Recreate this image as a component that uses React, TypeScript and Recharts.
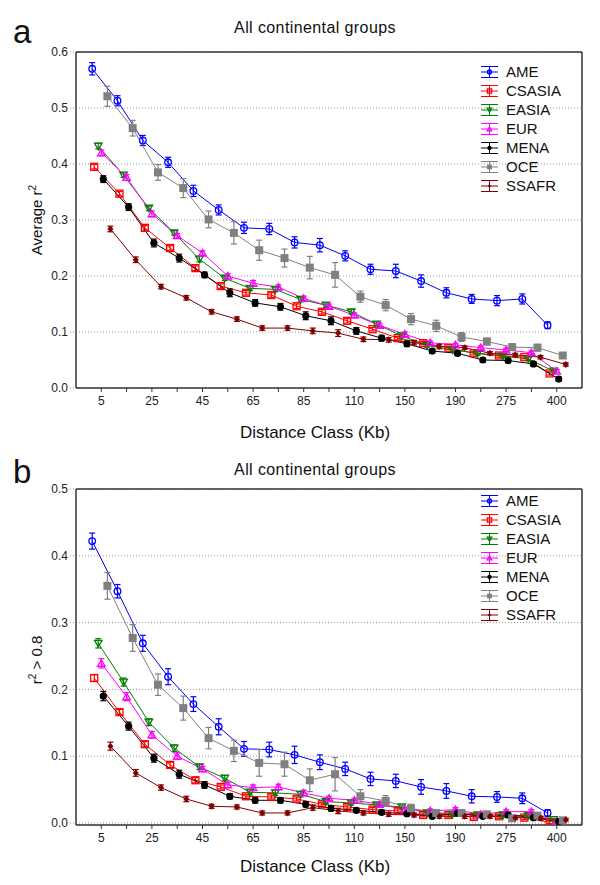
import React from "react";
import { LineChart, Line, XAxis, YAxis, CartesianGrid, ErrorBar, Legend } from "recharts";

const FONT = "'Liberation Sans', Arial, sans-serif";

const distanceClasses = ["5", "15", "25", "35", "45", "55", "65", "75", "85", "95", "110", "130", "150", "170", "190", "225", "275", "325", "400"];
const groups = ["AME", "CSASIA", "EASIA", "EUR", "MENA", "OCE", "SSAFR"];
const colors = ["#0000ff", "#ff0000", "#008000", "#ff00ff", "#000000", "#808080", "#800000"];
const shapes = ["circle", "square", "tdown", "tup", "fcircle", "fsquare", "diamond"];
// horizontal nudge of each group inside a distance class (in class units)
const jitter = [-0.36, -0.28, -0.12, 0, 0.08, 0.24, 0.36];

// panel a: average r2
const ameA = [0.57, 0.513, 0.442, 0.403, 0.352, 0.318, 0.286, 0.284, 0.26, 0.255, 0.236, 0.212, 0.209, 0.191, 0.17, 0.159, 0.156, 0.159, 0.112];
const csasiaA = [0.395, 0.347, 0.286, 0.25, 0.214, 0.182, 0.17, 0.166, 0.146, 0.136, 0.12, 0.105, 0.089, 0.08, 0.072, 0.062, 0.058, 0.055, 0.026];
const easiaA = [0.432, 0.38, 0.321, 0.277, 0.23, 0.196, 0.178, 0.176, 0.158, 0.148, 0.136, 0.114, 0.093, 0.076, 0.068, 0.062, 0.057, 0.052, 0.03];
const eurA = [0.42, 0.376, 0.311, 0.272, 0.241, 0.2, 0.187, 0.18, 0.16, 0.146, 0.13, 0.112, 0.096, 0.081, 0.077, 0.072, 0.068, 0.063, 0.03];
const menaA = [0.373, 0.323, 0.259, 0.232, 0.202, 0.17, 0.152, 0.145, 0.129, 0.12, 0.102, 0.089, 0.079, 0.066, 0.062, 0.05, 0.049, 0.043, 0.016];
const oceA = [0.521, 0.464, 0.385, 0.357, 0.301, 0.277, 0.246, 0.232, 0.215, 0.202, 0.163, 0.148, 0.123, 0.111, 0.091, 0.083, 0.073, 0.072, 0.058];
const ssafrA = [0.284, 0.229, 0.181, 0.161, 0.136, 0.123, 0.107, 0.107, 0.102, 0.098, 0.087, 0.086, 0.081, 0.074, 0.072, 0.062, 0.059, 0.055, 0.042];

const ameErrA = [0.011, 0.009, 0.009, 0.009, 0.01, 0.009, 0.01, 0.01, 0.01, 0.012, 0.009, 0.009, 0.012, 0.011, 0.009, 0.008, 0.009, 0.009, 0.006];
const csasiaErrA = [0.004, 0.004, 0.004, 0.004, 0.004, 0.004, 0.004, 0.004, 0.004, 0.004, 0.004, 0.003, 0.003, 0.003, 0.003, 0.003, 0.003, 0.003, 0.003];
const easiaErrA = [0.005, 0.004, 0.004, 0.004, 0.005, 0.004, 0.004, 0.004, 0.004, 0.004, 0.004, 0.004, 0.003, 0.003, 0.003, 0.003, 0.003, 0.003, 0.003];
const eurErrA = [0.005, 0.005, 0.005, 0.004, 0.004, 0.004, 0.005, 0.004, 0.004, 0.004, 0.004, 0.004, 0.004, 0.003, 0.003, 0.003, 0.003, 0.003, 0.003];
const menaErrA = [0.006, 0.006, 0.007, 0.007, 0.005, 0.007, 0.006, 0.006, 0.007, 0.007, 0.006, 0.005, 0.005, 0.004, 0.004, 0.004, 0.004, 0.004, 0.004];
const oceErrA = [0.018, 0.014, 0.014, 0.017, 0.015, 0.02, 0.018, 0.016, 0.02, 0.022, 0.01, 0.01, 0.01, 0.01, 0.008, 0.006, 0.006, 0.006, 0.005];
const ssafrErrA = [0.005, 0.005, 0.004, 0.004, 0.004, 0.004, 0.004, 0.004, 0.005, 0.006, 0.004, 0.004, 0.004, 0.004, 0.003, 0.003, 0.003, 0.003, 0.003];

// panel b: share of r2 > 0.8
const ameB = [0.422, 0.347, 0.269, 0.219, 0.178, 0.144, 0.111, 0.11, 0.102, 0.091, 0.081, 0.066, 0.063, 0.054, 0.048, 0.04, 0.039, 0.037, 0.015];
const csasiaB = [0.217, 0.166, 0.118, 0.087, 0.064, 0.054, 0.04, 0.039, 0.036, 0.028, 0.024, 0.02, 0.018, 0.012, 0.012, 0.009, 0.01, 0.008, 0.001];
const easiaB = [0.269, 0.211, 0.151, 0.112, 0.084, 0.067, 0.046, 0.045, 0.043, 0.032, 0.03, 0.027, 0.024, 0.015, 0.013, 0.012, 0.012, 0.011, 0.005];
const eurB = [0.239, 0.189, 0.132, 0.1, 0.081, 0.057, 0.053, 0.054, 0.045, 0.037, 0.034, 0.028, 0.02, 0.018, 0.02, 0.013, 0.017, 0.017, 0.002];
const menaB = [0.19, 0.145, 0.097, 0.073, 0.057, 0.04, 0.034, 0.034, 0.028, 0.022, 0.019, 0.016, 0.014, 0.01, 0.015, 0.01, 0.012, 0.008, 0.002];
const oceB = [0.355, 0.277, 0.207, 0.172, 0.127, 0.108, 0.09, 0.088, 0.064, 0.073, 0.04, 0.033, 0.022, 0.015, 0.015, 0.013, 0.007, 0.011, 0.004];
const ssafrB = [0.115, 0.075, 0.053, 0.036, 0.025, 0.024, 0.015, 0.015, 0.023, 0.018, 0.015, 0.013, 0.012, 0.01, 0.01, 0.01, 0.008, 0.007, 0.005];

const ameErrB = [0.012, 0.01, 0.012, 0.012, 0.011, 0.012, 0.011, 0.011, 0.013, 0.011, 0.01, 0.01, 0.01, 0.011, 0.011, 0.01, 0.008, 0.008, 0.005];
const csasiaErrB = [0.005, 0.004, 0.004, 0.004, 0.004, 0.003, 0.003, 0.003, 0.003, 0.003, 0.003, 0.003, 0.003, 0.003, 0.003, 0.003, 0.003, 0.003, 0.002];
const easiaErrB = [0.007, 0.006, 0.005, 0.005, 0.004, 0.004, 0.004, 0.004, 0.004, 0.003, 0.003, 0.003, 0.003, 0.003, 0.003, 0.003, 0.003, 0.003, 0.002];
const eurErrB = [0.007, 0.006, 0.005, 0.005, 0.004, 0.004, 0.004, 0.004, 0.004, 0.003, 0.003, 0.003, 0.003, 0.003, 0.003, 0.003, 0.003, 0.003, 0.002];
const menaErrB = [0.007, 0.006, 0.006, 0.006, 0.005, 0.004, 0.004, 0.004, 0.004, 0.004, 0.003, 0.003, 0.003, 0.003, 0.003, 0.003, 0.003, 0.003, 0.002];
const oceErrB = [0.02, 0.02, 0.016, 0.018, 0.016, 0.016, 0.02, 0.018, 0.017, 0.025, 0.01, 0.008, 0.006, 0.005, 0.005, 0.004, 0.004, 0.004, 0.003];
const ssafrErrB = [0.006, 0.005, 0.004, 0.004, 0.003, 0.003, 0.003, 0.003, 0.004, 0.004, 0.003, 0.003, 0.003, 0.003, 0.003, 0.003, 0.003, 0.003, 0.002];

const valuesA = [ameA, csasiaA, easiaA, eurA, menaA, oceA, ssafrA];
const errorsA = [ameErrA, csasiaErrA, easiaErrA, eurErrA, menaErrA, oceErrA, ssafrErrA];
const valuesB = [ameB, csasiaB, easiaB, eurB, menaB, oceB, ssafrB];
const errorsB = [ameErrB, csasiaErrB, easiaErrB, eurErrB, menaErrB, oceErrB, ssafrErrB];

const yTicksA = [0, 0.1, 0.2, 0.3, 0.4, 0.5, 0.6];
const yTicksB = [0, 0.1, 0.2, 0.3, 0.4, 0.5];
const classTicks = distanceClasses.map((_, i) => i);

const Marker = ({ shape, cx, cy, color, s = 1 }: any) => {
  if (cx == null || cy == null) return null;
  const sw = 1.3;
  switch (shape) {
    case "circle":
      return <circle cx={cx} cy={cy} r={3.3 * s} fill="none" stroke={color} strokeWidth={sw} />;
    case "square":
      return <rect x={cx - 3.5 * s} y={cy - 3.5 * s} width={7 * s} height={7 * s} fill="none" stroke={color} strokeWidth={sw} />;
    case "tdown":
      return <path d={`M${cx - 3.8 * s},${cy - 3 * s}L${cx + 3.8 * s},${cy - 3 * s}L${cx},${cy + 3.6 * s}Z`} fill="none" stroke={color} strokeWidth={sw} />;
    case "tup":
      return <path d={`M${cx - 3.8 * s},${cy + 3 * s}L${cx + 3.8 * s},${cy + 3 * s}L${cx},${cy - 3.6 * s}Z`} fill="none" stroke={color} strokeWidth={sw} />;
    case "fcircle":
      return <circle cx={cx} cy={cy} r={3.6 * s} fill={color} />;
    case "fsquare":
      return <rect x={cx - 4 * s} y={cy - 4 * s} width={8 * s} height={8 * s} fill={color} />;
    default:
      return <path d={`M${cx},${cy - 3.5 * s}L${cx + 3 * s},${cy}L${cx},${cy + 3.5 * s}L${cx - 3 * s},${cy}Z`} fill={color} />;
  }
};

const LegendBox = () => (
  <div style={{ fontFamily: FONT, fontSize: 15, color: "#111" }}>
    {groups.map((g, k) => (
      <div key={g} style={{ display: "flex", alignItems: "center", height: 19 }}>
        <svg width={17} height={14} style={{ marginRight: 8 }}>
          <line x1={0} x2={17} y1={1.5} y2={1.5} stroke={colors[k]} />
          <line x1={0} x2={17} y1={7} y2={7} stroke={colors[k]} />
          <line x1={0} x2={17} y1={12.5} y2={12.5} stroke={colors[k]} />
          <line x1={8.5} x2={8.5} y1={1.5} y2={12.5} stroke={colors[k]} />
          <Marker shape={shapes[k]} cx={8.5} cy={7} color={colors[k]} s={0.6} />
        </svg>
        <span>{g}</span>
      </div>
    ))}
  </div>
);

const axisStroke = { stroke: "#333", strokeWidth: 1.5 };
const tickFont = { fontSize: 12, fill: "#222", fontFamily: FONT };

const Panel = ({ values, errors, height, margin, domain, yTicks, legendTop }: any) => {
  const series = values.map((vals: number[], k: number) =>
    vals.map((v, i) => ({ x: i + jitter[k], y: v, e: errors[k][i] }))
  );
  return (
    <LineChart width={600} height={height} margin={margin}>
      <CartesianGrid vertical={false} stroke="#9a9a9a" strokeDasharray="1 2" />
      <XAxis
        type="number"
        dataKey="x"
        domain={[-1, 19]}
        ticks={classTicks}
        interval={0}
        allowDataOverflow
        tickFormatter={(v: number) => (v % 2 === 0 ? distanceClasses[v] : "")}
        axisLine={axisStroke}
        tickLine={{ stroke: "#333" }}
        tickSize={4}
        tickMargin={4}
        height={30}
        tick={tickFont}
      />
      <XAxis
        xAxisId="top"
        orientation="top"
        type="number"
        dataKey="x"
        domain={[-1, 19]}
        ticks={classTicks}
        interval={0}
        mirror
        tick={false}
        tickSize={5}
        axisLine={axisStroke}
        tickLine={{ stroke: "#333" }}
      />
      <YAxis
        type="number"
        domain={domain}
        ticks={yTicks}
        interval={0}
        allowDataOverflow
        tickFormatter={(v: number) => v.toFixed(1)}
        axisLine={axisStroke}
        tickLine={{ stroke: "#9a9a9a", strokeDasharray: "1 2" }}
        tickSize={6}
        tickMargin={2}
        width={40}
        tick={tickFont}
      />
      <YAxis
        yAxisId="r"
        orientation="right"
        type="number"
        domain={domain}
        ticks={yTicks}
        interval={0}
        tick={false}
        tickSize={4}
        width={2}
        axisLine={axisStroke}
        tickLine={{ stroke: "#333" }}
      />
      {series.map((data: any[], k: number) => (
        <Line
          key={groups[k]}
          data={data}
          dataKey="y"
          name={groups[k]}
          type="linear"
          stroke={colors[k]}
          strokeWidth={1}
          isAnimationActive={false}
          activeDot={false}
          dot={(p: any) => <Marker key={`${groups[k]}-${p.index}`} shape={shapes[k]} cx={p.cx} cy={p.cy} color={colors[k]} />}
        >
          <ErrorBar dataKey="e" width={3} stroke={colors[k]} strokeWidth={1.2} direction="y" isAnimationActive={false} />
        </Line>
      ))}
      <Legend
        layout="vertical"
        align="center"
        verticalAlign="middle"
        wrapperStyle={{ left: 481, top: legendTop, width: 110 }}
        content={() => <LegendBox />}
      />
    </LineChart>
  );
};

const text = (style: any, content: any) => (
  <div style={{ position: "absolute", fontFamily: FONT, color: "#111", whiteSpace: "nowrap", ...style }}>{content}</div>
);

export default function App() {
  return (
    <div style={{ position: "absolute", left: 0, top: 0, width: 600, height: 885, background: "#fff", overflow: "hidden" }}>
      <div style={{ position: "absolute", left: 0, top: 0 }}>
        <Panel values={valuesA} errors={errorsA} height={440} margin={{ top: 52, right: 16, bottom: 22, left: 36 }} domain={[0, 0.6]} yTicks={yTicksA} legendTop={62} />
      </div>
      <div style={{ position: "absolute", left: 0, top: 440 }}>
        <Panel values={valuesB} errors={errorsB} height={445} margin={{ top: 49, right: 16, bottom: 30, left: 36 }} domain={[-0.003, 0.5]} yTicks={yTicksB} legendTop={51} />
      </div>

      {text({ left: 13, top: 12, fontSize: 33, lineHeight: "40px" }, "a")}
      {text({ left: 13, top: 452, fontSize: 33, lineHeight: "40px" }, "b")}

      {text({ left: 0, width: 630, top: 18, fontSize: 16, letterSpacing: 0.4, textAlign: "center", lineHeight: "20px" }, "All continental groups")}
      {text({ left: 0, width: 630, top: 460, fontSize: 16, letterSpacing: 0.4, textAlign: "center", lineHeight: "20px" }, "All continental groups")}

      {text({ left: 0, width: 630, top: 422, fontSize: 17, textAlign: "center", lineHeight: "22px" }, "Distance Class (Kb)")}
      {text({ left: 0, width: 630, top: 856, fontSize: 17, textAlign: "center", lineHeight: "22px" }, "Distance Class (Kb)")}

      {text(
        { left: 35, top: 220, fontSize: 15, transform: "translate(-50%, -50%) rotate(-90deg)", lineHeight: "20px" },
        <span>Average r<sup style={{ fontSize: 10 }}>2</sup></span>
      )}
      {text(
        { left: 35, top: 660, fontSize: 15, transform: "translate(-50%, -50%) rotate(-90deg)", lineHeight: "20px" },
        <span>r<sup style={{ fontSize: 10 }}>2</sup> &gt; 0.8</span>
      )}
    </div>
  );
}
